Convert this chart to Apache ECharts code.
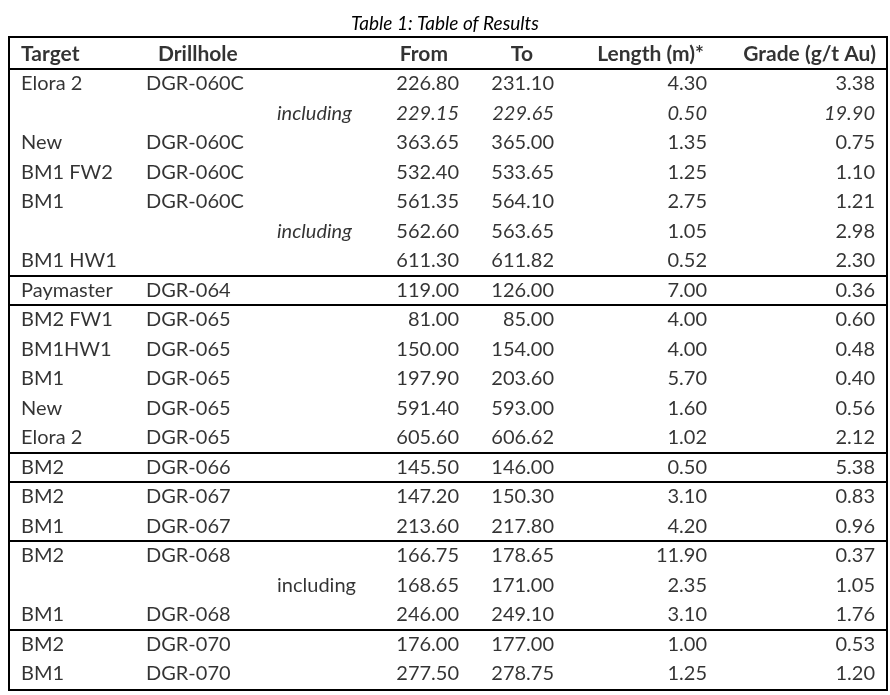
<!DOCTYPE html>
<html>
<head>
<meta charset="utf-8">
<script src="https://cdn.jsdelivr.net/npm/echarts@6/dist/echarts.min.js"></script>
<style>
  html, body { margin: 0; padding: 0; background: #fff; }
  #chart { width: 890px; height: 695px; }
</style>
</head>
<body>
<div id="chart"></div>
<script>
// table contents, one entry per row
const headers = ['Target', 'Drillhole', 'From', 'To', 'Length (m)*', 'Grade (g/t Au)']
const targets = ['Elora 2', '', 'New', 'BM1 FW2', 'BM1', '', 'BM1 HW1', 'Paymaster', 'BM2 FW1', 'BM1HW1', 'BM1', 'New', 'Elora 2', 'BM2', 'BM2', 'BM1', 'BM2', '', 'BM1', 'BM2', 'BM1']
const drillholes = ['DGR-060C', '', 'DGR-060C', 'DGR-060C', 'DGR-060C', '', '', 'DGR-064', 'DGR-065', 'DGR-065', 'DGR-065', 'DGR-065', 'DGR-065', 'DGR-066', 'DGR-067', 'DGR-067', 'DGR-068', '', 'DGR-068', 'DGR-070', 'DGR-070']
const notes = ['', 'including', '', '', '', 'including', '', '', '', '', '', '', '', '', '', '', '', 'including', '', '', '']
const fromM = [226.80, 229.15, 363.65, 532.40, 561.35, 562.60, 611.30, 119.00, 81.00, 150.00, 197.90, 591.40, 605.60, 145.50, 147.20, 213.60, 166.75, 168.65, 246.00, 176.00, 277.50]
const toM = [231.10, 229.65, 365.00, 533.65, 564.10, 563.65, 611.82, 126.00, 85.00, 154.00, 203.60, 593.00, 606.62, 146.00, 150.30, 217.80, 178.65, 171.00, 249.10, 177.00, 278.75]
const lengths = [4.30, 0.50, 1.35, 1.25, 2.75, 1.05, 0.52, 7.00, 4.00, 4.00, 5.70, 1.60, 1.02, 0.50, 3.10, 4.20, 11.90, 2.35, 3.10, 1.00, 1.25]
const grades = [3.38, 19.90, 0.75, 1.10, 1.21, 2.98, 2.30, 0.36, 0.60, 0.48, 0.40, 0.56, 2.12, 5.38, 0.83, 0.96, 0.37, 1.05, 1.76, 0.53, 1.20]
// rows written in italic (whole row) and rows whose note is italic
const italicRows = [1]
const italicNotes = [1, 5]
// last row of each group (a rule is drawn under it)
const groupEnds = [7, 8, 13, 14, 16, 19]

const FONT = 'Lato, "Liberation Sans", sans-serif'
const nRows = targets.length

const fmt2 = v => v.toFixed(2)

// one scatter series per column, each point carries its cell text as label
const column = (name, values, x, side, format, italicFn, bold) => ({
  name: name,
  type: 'scatter',
  silent: true,
  symbolSize: 0,
  itemStyle: { color: 'rgba(0,0,0,0)' },
  label: {
    show: true,
    position: side === 'left' ? 'right' : 'left',
    distance: 0,
    color: '#000',
    fontSize: bold ? 21 : 20,
    fontFamily: FONT,
    fontWeight: bold ? 'bold' : 'normal',
    formatter: p => p.data.text
  },
  data: values.map((v, i) => ({
    value: [x, bold ? 0 : i + 1],
    text: format ? format(v) : v,
    label: italicFn && italicFn(i) ? { fontStyle: 'italic' } : undefined
  })).filter(d => d.text !== '')
})

const rowItalic = i => italicRows.indexOf(i) >= 0
const noteItalic = i => italicNotes.indexOf(i) >= 0

const series = [
  column('Target', targets, 21, 'left', null, rowItalic),
  column('Drillhole', drillholes, 146, 'left', null, rowItalic),
  column('Note', notes, 277, 'left', null, noteItalic),
  column('From', fromM, 459, 'right', fmt2, rowItalic),
  column('To', toM, 554, 'right', fmt2, rowItalic),
  column('Length', lengths, 707, 'right', fmt2, rowItalic),
  column('Grade', grades, 875, 'right', fmt2, rowItalic),
  column('Header', headers.slice(0, 1), 21, 'left', null, null, true),
  column('Header', headers.slice(1, 2), 158, 'left', null, null, true),
  column('Header', headers.slice(2, 3), 448, 'right', null, null, true),
  column('Header', headers.slice(3, 4), 533, 'right', null, null, true),
  column('Header', headers.slice(4, 5), 704, 'right', null, null, true),
  column('Header', headers.slice(5, 6), 876, 'right', null, null, true)
]

// horizontal rules: under the header and under every group
series[0].markLine = {
  silent: true,
  symbol: ['none', 'none'],
  label: { show: false },
  lineStyle: { color: '#000', width: 2, type: 'solid' },
  data: [0].concat(groupEnds).map(r => ({ yAxis: r + 0.5 }))
}

const chart = echarts.init(document.getElementById('chart'))
chart.setOption({
  animation: false,
  backgroundColor: '#fff',
  title: {
    text: 'Table 1: Table of Results',
    left: 'center',
    top: 9,
    textStyle: { fontFamily: FONT, fontSize: 19, fontWeight: 'normal', fontStyle: 'italic', color: '#000' }
  },
  grid: { left: 9, right: 3, top: 37, bottom: 5, show: true, borderColor: '#000', borderWidth: 2 },
  xAxis: { type: 'value', min: 9, max: 887, show: false },
  yAxis: { type: 'value', min: -0.59, max: nRows + 0.55, inverse: true, show: false },
  series: series
})
</script>
</body>
</html>
